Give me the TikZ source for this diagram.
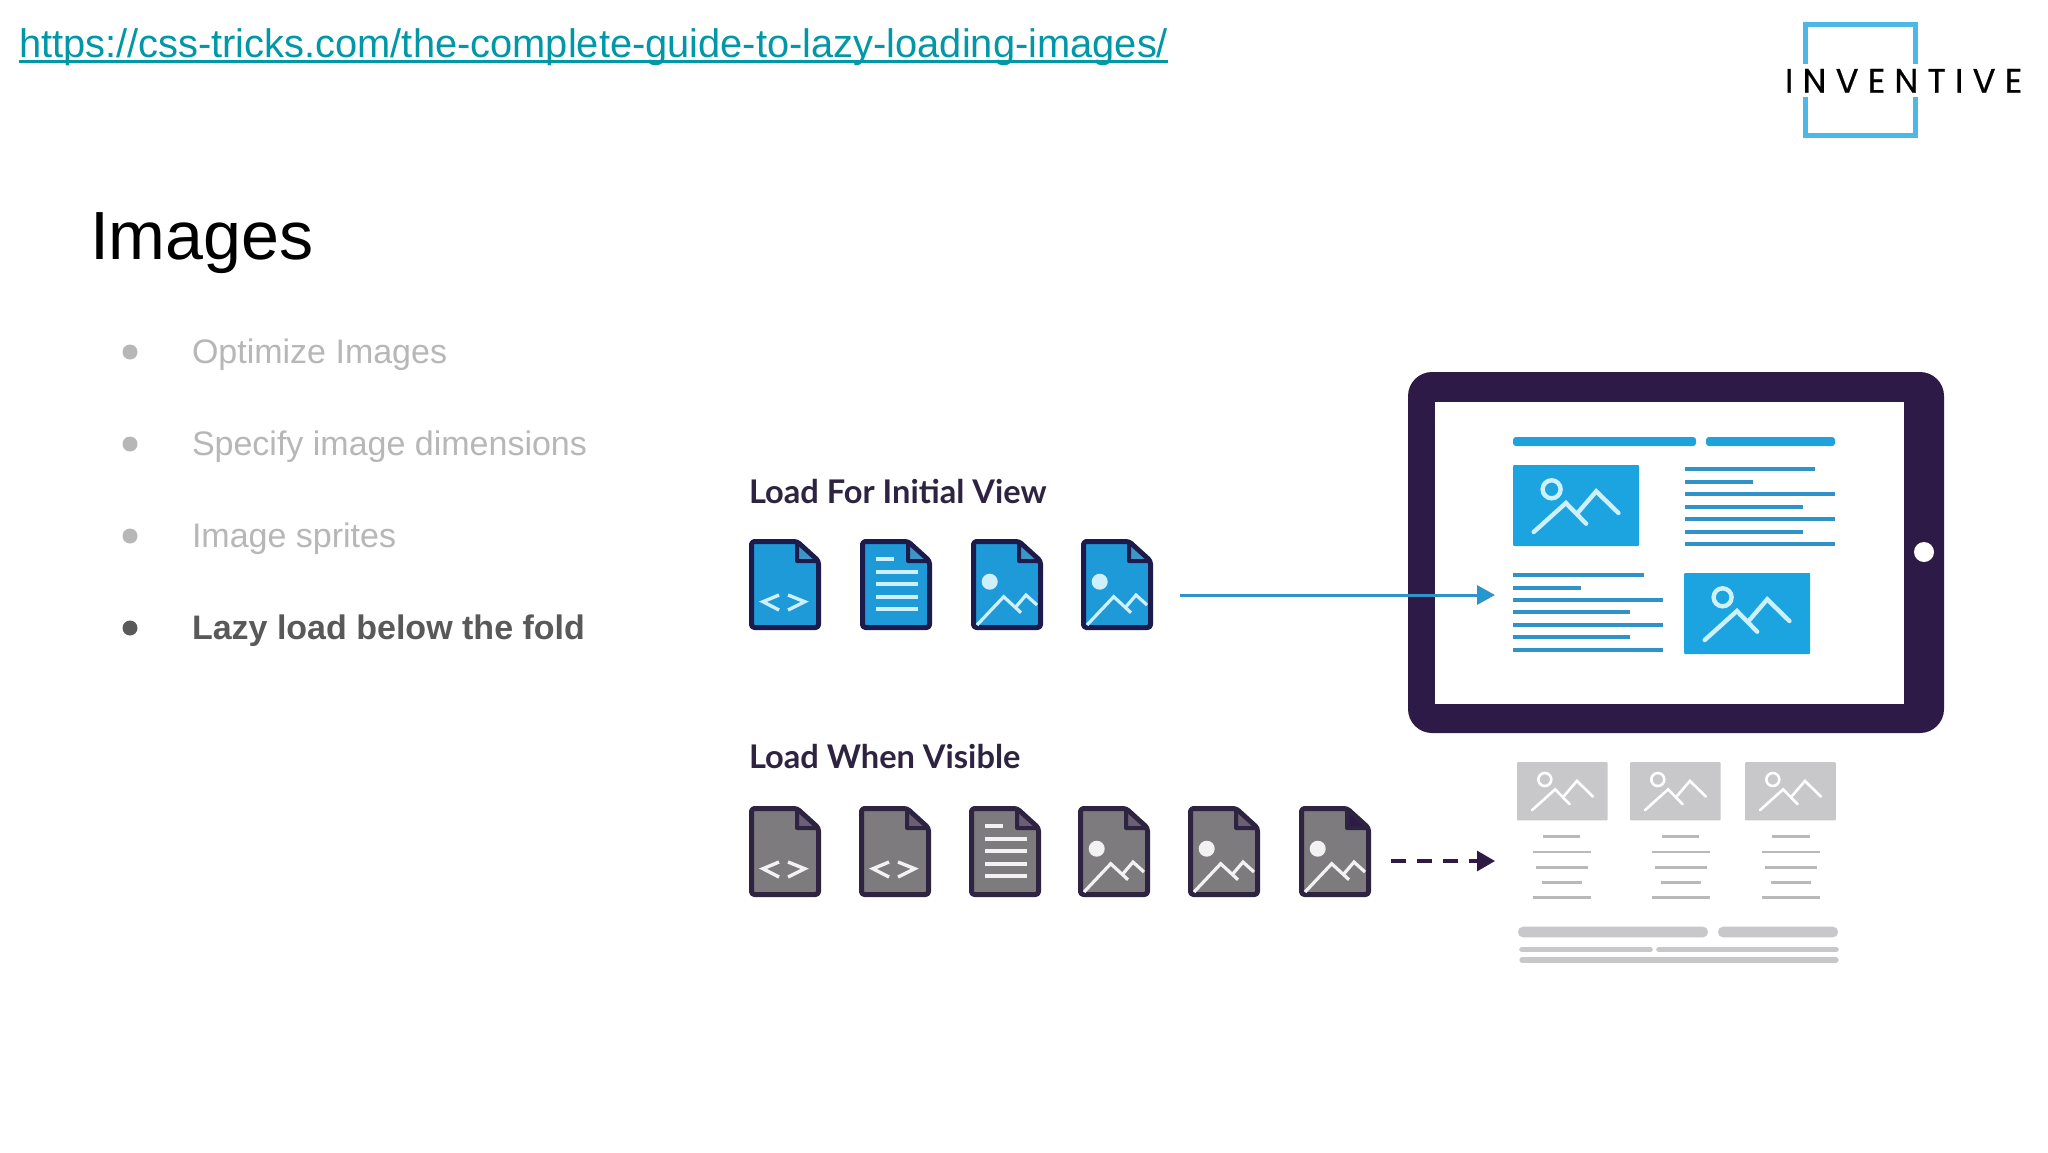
\documentclass[tikz,border=0pt]{standalone}
\usepackage{fontspec}
\setmainfont{Liberation Sans}
\newfontfamily\labelfont{Lato}
\newfontfamily\logofont[LetterSpace=27,FakeBold=0.5]{Poppins}
\usetikzlibrary{arrows.meta,calc}
\definecolor{linkc}{HTML}{0097A7}
\definecolor{fadec}{HTML}{B7B7B7}
\definecolor{activec}{HTML}{595959}
\definecolor{inkc}{HTML}{2E2340}
\definecolor{framec}{HTML}{2E1A47}
\definecolor{navyc}{HTML}{1D1B4B}
\definecolor{bluec}{HTML}{1E9AD8}
\definecolor{foldc}{HTML}{3F96C6}
\definecolor{imgc}{HTML}{1BA4E0}
\definecolor{rulec}{HTML}{2F93C9}
\definecolor{markc}{HTML}{CDF0FA}
\definecolor{grayc}{HTML}{7D7B7E}
\definecolor{gfoldc}{HTML}{6B5F73}
\definecolor{gmarkc}{HTML}{F2F2F2}
\definecolor{thumbc}{HTML}{C8C8CA}
\definecolor{glinec}{HTML}{B9B9BB}
\definecolor{logoc}{HTML}{4DB8E8}
\tikzset{
  txt/.style={anchor=base west,inner sep=0pt,outer sep=0pt},
  bulletfade/.style={txt,font=\fontsize{17}{20}\selectfont,text=fadec},
  sectionlabel/.style={txt,font=\labelfont\bfseries\fontsize{16.3}{18}\selectfont,text=inkc},
  bluerule/.style={draw=rulec,line width=2pt},
  grayrule/.style={draw=glinec,line width=1.4pt},
  graybar/.style={draw=thumbc,line cap=round},
}
\newcommand{\codemark}[1]{\draw[#1,line width=1.7pt] (30,56) -- (14,62.7) -- (30,71) (39,56) -- (55.7,62.7) -- (39,71);}
\newcommand{\textmark}[1]{\draw[#1,line width=1.7pt] (16,20) -- (34,20) (16,33) -- (57.7,33) (16,45) -- (57.7,45) (16,58) -- (57.7,58) (16,70) -- (57.7,70);}
\newcommand{\imagemark}[1]{\fill[#1] (18.7,42.7) circle[radius=8];
  \draw[#1,line width=1.6pt,line join=miter] (6,86) -- (32.7,57.7) -- (50,73.7) (45,67.7) -- (55,56) -- (66,66);}
\newcommand{\docbase}[6]{%
  \begin{scope}[shift={(#1,#2)}]
    \draw[draw=#5,fill=#3,line width=2.5pt,rounded corners=1.5pt,line join=round]
      (2.5,2.5) -- (48,2.5) -- (69.5,22) -- (69.5,88.5) -- (2.5,88.5) -- cycle;
    \draw[draw=#5,fill=#4,line width=2pt,line join=round]
      (48,3) -- (48,22) -- (69,22) -- cycle;
    #6
  \end{scope}}
\newcommand{\thumbnail}[6]{%
  \begin{scope}[shift={(#1,#2)},scale=#3]
    \fill[#4,rounded corners=0.5pt] (0,0) rectangle (126,81);
    \draw[#5,line width=#6,line cap=round] (38.6,24.3) circle[radius=9];
    \draw[#5,line width=#6,line cap=round,line join=miter]
      (20.7,67) -- (52.9,38) -- (73.2,58.7) (65.4,47) -- (83.2,26.3) -- (105.4,48);
  \end{scope}}
\newcommand{\graycol}[1]{%
  \draw[grayrule] (#1-18.7,836.7) -- (#1+18.7,836.7) (#1-29,852) -- (#1+29,852)
    (#1-26,867.3) -- (#1+26,867.3) (#1-20,882.7) -- (#1+20,882.7) (#1-29,897.3) -- (#1+29,897.3);}
\begin{document}
\begin{tikzpicture}[x=0.5pt,y=-0.5pt]
\useasboundingbox (0,0) rectangle (2048,1152);
\fill[white] (0,0) rectangle (2048,1152);

\node[txt,font=\fontsize{19.92}{24}\selectfont,text=linkc] (link) at (19,57)
  {https://css-tricks.com/the-complete-guide-to-lazy-loading-images/};
\draw[linkc,line width=1.2pt] ([yshift=-2.2pt]link.base west) -- ([yshift=-2.2pt]link.base east);
\node[txt,font=\fontsize{34.1}{40}\selectfont,text=black] (title) at (90,259) {Images};

\fill[fadec] (130,352) circle[radius=7.5];
\fill[fadec] (130,444) circle[radius=7.5];
\fill[fadec] (130,536) circle[radius=7.5];
\fill[activec] (130,628) circle[radius=7.5];
\node[bulletfade] (b1) at (192,363) {Optimize Images};
\node[bulletfade] (b2) at (192,455) {Specify image dimensions};
\node[bulletfade] (b3) at (192,547) {Image sprites};
\node[txt,font=\bfseries\fontsize{17}{20}\selectfont,text=activec] (b4) at (192,639) {Lazy load below the fold};

% logo
\draw[logoc,line width=2.3pt,line cap=butt]
  (1805.5,64) -- (1805.5,24.5) -- (1915.5,24.5) -- (1915.5,64)
  (1915.5,97) -- (1915.5,135.5) -- (1805.5,135.5) -- (1805.5,97);
\node[txt,font=\logofont\fontsize{17}{20}\selectfont,text=black] (logo) at (1785,92.7) {INVENTIVE};

% labels
\node[sectionlabel] (initial) at (749,503) {Load For Initial View};
\node[sectionlabel] (visible) at (749,768) {Load When Visible};

% blue file icons
\docbase{749}{539}{bluec}{foldc}{navyc}{\codemark{markc}}
\docbase{860}{539}{bluec}{foldc}{navyc}{\textmark{markc}}
\docbase{971}{539}{bluec}{foldc}{navyc}{\imagemark{markc}}
\docbase{1081}{539}{bluec}{foldc}{navyc}{\imagemark{markc}}

% grey file icons
\docbase{749}{806}{grayc}{gfoldc}{inkc}{\codemark{gmarkc}}
\docbase{859}{806}{grayc}{gfoldc}{inkc}{\codemark{gmarkc}}
\docbase{969}{806}{grayc}{gfoldc}{inkc}{\textmark{gmarkc}}
\docbase{1078}{806}{grayc}{gfoldc}{inkc}{\imagemark{gmarkc}}
\docbase{1188}{806}{grayc}{gfoldc}{inkc}{\imagemark{gmarkc}}
\docbase{1299}{806}{grayc}{framec}{inkc}{\imagemark{gmarkc}}

% tablet
\fill[framec,rounded corners=12pt] (1408,372) rectangle (1944,733);
\fill[white] (1435,402) rectangle (1904,704);
\fill[white] (1924,552) circle[radius=10];
\fill[imgc!85!rulec,rounded corners=1.5pt] (1513,437) rectangle (1696,446);
\fill[imgc!85!rulec,rounded corners=1.5pt] (1706,437) rectangle (1835,446);
\thumbnail{1513}{465}{1}{imgc}{markc}{2.2pt}
\thumbnail{1684}{573}{1}{imgc}{markc}{2.2pt}
\draw[bluerule] (1685,469.3) -- (1815,469.3) (1685,482) -- (1752.5,482)
  (1685,494.3) -- (1835,494.3) (1685,506.7) -- (1802.5,506.7)
  (1685,519.3) -- (1835,519.3) (1685,531.7) -- (1802.5,531.7) (1685,544) -- (1835,544);
\draw[bluerule] (1513,575) -- (1643.6,575) (1513,587.7) -- (1581,587.7)
  (1513,600) -- (1663,600) (1513,612.3) -- (1630,612.3)
  (1513,625) -- (1663,625) (1513,637.3) -- (1630,637.3) (1513,649.7) -- (1663,649.7);

% arrows
\coordinate (a1s) at (1180,595);
\coordinate (a1e) at (1495,595);
\coordinate (a2s) at (1391,861);
\coordinate (a2e) at (1495,861);
\draw[rulec,line width=1.5pt,-{Triangle[length=9pt,width=9.5pt,fill=bluec]}] (a1s) -- (a1e);
\draw[framec,line width=1.6pt,dash pattern=on 7.5pt off 5.5pt,-{Triangle[length=9pt,width=10pt]}] (a2s) -- (a2e);

% grey page
\thumbnail{1517}{762}{0.72}{thumbc}{white}{1.3pt}
\thumbnail{1630}{762}{0.72}{thumbc}{white}{1.3pt}
\thumbnail{1745}{762}{0.72}{thumbc}{white}{1.3pt}
\graycol{1561.7}
\graycol{1680.7}
\graycol{1791}
\fill[thumbc,rounded corners=2.5pt] (1518,926.7) rectangle (1708,937.3);
\fill[thumbc,rounded corners=2.5pt] (1718,926.7) rectangle (1838,937.3);
\draw[graybar,line width=2.8pt] (1522,949.5) -- (1650,949.5);
\draw[graybar,line width=2.8pt] (1659,949.5) -- (1836,949.5);
\draw[graybar,line width=2.6pt] (1522,960) -- (1836,960);
\end{tikzpicture}
\end{document}
